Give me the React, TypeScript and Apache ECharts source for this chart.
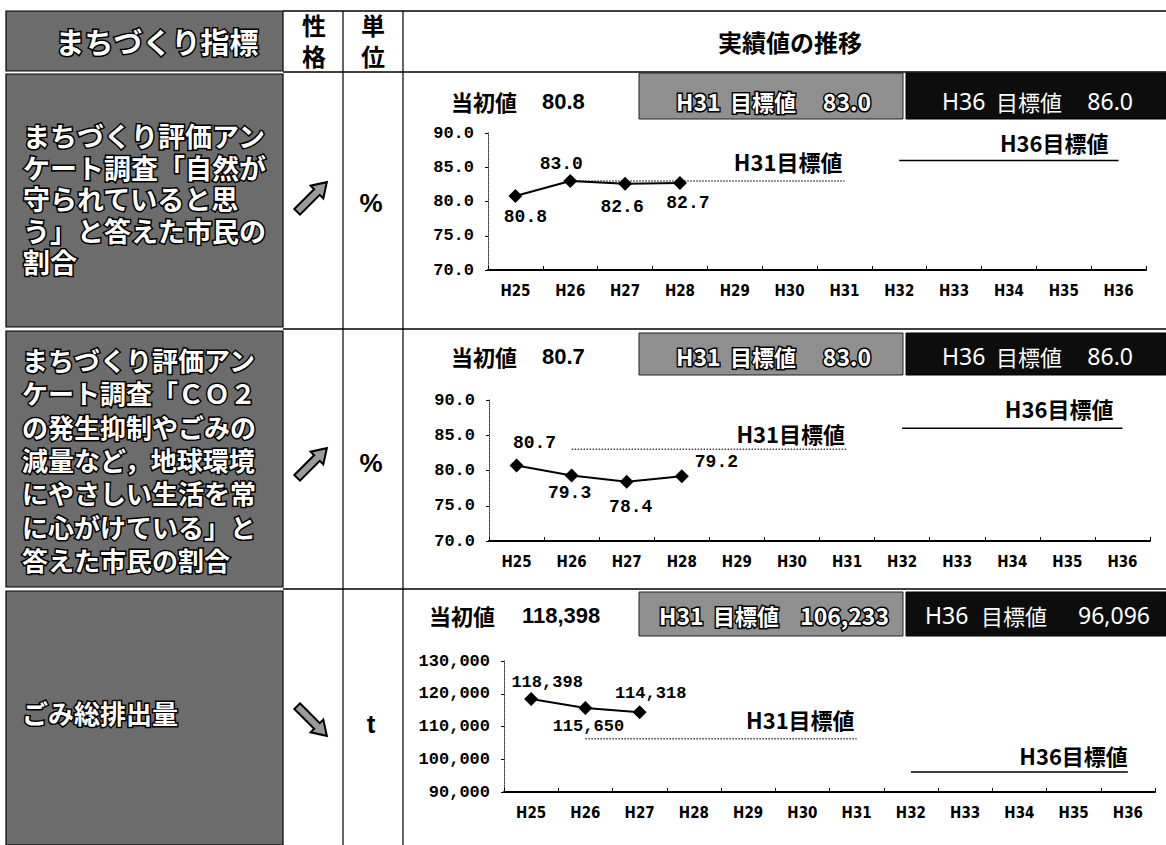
import React, { useEffect, useRef } from "react";
import * as echarts from "echarts";

// ---------- data ----------
const CATEGORIES = ["H25", "H26", "H27", "H28", "H29", "H30", "H31", "H32", "H33", "H34", "H35", "H36"];
const ROW1_ACTUAL = [80.8, 83.0, 82.6, 82.7];
const ROW2_ACTUAL = [80.7, 79.3, 78.4, 79.2];
const ROW3_ACTUAL = [118398, 115650, 114318];
const INITIAL_VALUES = [80.8, 80.7, 118398];
const TARGET_H31 = [83.0, 83.0, 106233];
const TARGET_H36 = [86.0, 86.0, 96096];
const Y_MIN = [70, 70, 90000];
const Y_MAX = [90, 90, 130000];
const Y_STEP = [5, 5, 10000];
const UNITS = ["%", "%", "t"];
const DIRECTIONS = ["up", "up", "down"];
const INDICATOR_LINES = [
  ["まちづくり評価アン", "ケート調査「自然が", "守られていると思", "う」と答えた市民の", "割合"],
  ["まちづくり評価アン", "ケート調査「ＣＯ２", "の発生抑制やごみの", "減量など，地球環境", "にやさしい生活を常", "に心がけている」と", "答えた市民の割合"],
  ["ごみ総排出量"],
];
const H31_RANGE = [1, 6]; // H26..H31
const H36_RANGE = [7, 11]; // H32..H36

const JP = '"Noto Sans CJK JP", "Noto Sans CJK SC", sans-serif';
const JP_TIGHT = '"Liberation Sans", "Noto Sans CJK JP", "Noto Sans CJK SC", sans-serif';

function withCommas(v: number) {
  return Math.round(v).toString().replace(/\B(?=(\d{3})+(?!\d))/g, ",");
}
function fmt(v: number, row: number) {
  return row < 2 ? v.toFixed(1) : withCommas(v);
}

// ---------- layout (style only) ----------
const GRIDS = [
  { left: 488, top: 133, width: 658, height: 137 },
  { left: 489, top: 400, width: 661, height: 141 },
  { left: 504, top: 661, width: 651, height: 131 },
];
const ROW_LAYOUT = [
  { boxTop: 73, boxH: 46, textY: 101, initX: 451, valX: 542, gray: [676, 730, 871], black: [942, 996, 1133], arrowY: 197, unitY: 203, textX: 23, lineY0: 138, lineH: 31.5, fs: 27 },
  { boxTop: 333, boxH: 42, textY: 356, initX: 451, valX: 542, gray: [676, 730, 871], black: [942, 996, 1133], arrowY: 463, unitY: 463, textX: 22, lineY0: 362, lineH: 33.3, fs: 26 },
  { boxTop: 592, boxH: 44, textY: 615, initX: 429, valX: 522, gray: [659, 713, 889], black: [925, 981, 1150], arrowY: 721, unitY: 724, textX: 22, lineY0: 715, lineH: 33, fs: 26 },
];
// per-point label placement for actual series
const ACTUAL_LABELS = [
  [
    { position: "bottom", distance: 5, offset: [10, 0] },
    { position: "top", distance: 1, offset: [-9, 0] },
    { position: "bottom", distance: 7, offset: [-3, 0] },
    { position: "bottom", distance: 4, offset: [8, 0] },
  ],
  [
    { position: "top", distance: 7, offset: [18, 0] },
    { position: "bottom", distance: 2, offset: [-2, 0] },
    { position: "bottom", distance: 9, offset: [4, 0] },
    { position: "right", distance: 6, offset: [0, -14] },
  ],
  [
    { position: "top", distance: 1, offset: [16, 0] },
    { position: "bottom", distance: 3, offset: [3, 0] },
    { position: "top", distance: 3, offset: [11, 0] },
  ],
];
const H31_LABEL = [
  { distance: 8, offset: [-2, 0] },
  { distance: 5, offset: [-2, 0] },
  { distance: 8, offset: [-2, 0] },
];
const H36_LABEL = [
  { distance: 7, offset: [-10, 0] },
  { distance: 9, offset: [-9, 0] },
  { distance: 6, offset: [0, 0] },
];

function buildOption() {
  const actuals = [ROW1_ACTUAL, ROW2_ACTUAL, ROW3_ACTUAL];
  const grid = GRIDS.map((g) => ({ ...g, containLabel: false }));
  const xAxis = GRIDS.map((_, i) => ({
    gridIndex: i,
    type: "category",
    data: CATEGORIES,
    boundaryGap: true,
    axisLine: { lineStyle: { color: "#000", width: 2 } },
    axisTick: { show: true, inside: true, length: 4, lineStyle: { color: "#000" } },
    axisLabel: {
      interval: 0,
      color: "#000",
      fontFamily: '"DejaVu Sans Condensed", sans-serif',
      fontWeight: "bold",
      fontSize: 15,
      margin: 13,
    },
    splitLine: { show: false },
  }));
  const yAxis = GRIDS.map((_, i) => ({
    gridIndex: i,
    type: "value",
    min: Y_MIN[i],
    max: Y_MAX[i],
    interval: Y_STEP[i],
    axisLine: { show: true, lineStyle: { color: "#333", width: 1, type: "dotted" } },
    axisTick: { show: true, length: 3, lineStyle: { color: "#000" } },
    axisLabel: {
      color: "#000",
      fontFamily: '"Liberation Mono", monospace',
      fontWeight: "bold",
      fontSize: 17,
      margin: 14,
      formatter: (v: number) => fmt(v, i),
    },
    splitLine: { show: false },
  }));

  const series: any[] = [];
  GRIDS.forEach((_, i) => {
    const act = actuals[i];
    series.push({
      type: "line",
      xAxisIndex: i,
      yAxisIndex: i,
      silent: true,
      z: 5,
      symbol: "diamond",
      symbolSize: 14,
      itemStyle: { color: "#000" },
      lineStyle: { color: "#000", width: 2 },
      label: {
        show: true,
        color: "#000",
        fontFamily: '"Liberation Mono", monospace',
        fontWeight: "bold",
        fontSize: i < 2 ? 18 : 17,
        formatter: (p: any) => fmt(p.value, i),
      },
      data: CATEGORIES.map((_, k) =>
        k < act.length ? { value: act[k], label: ACTUAL_LABELS[i][k] } : null
      ),
    });
    series.push({
      type: "line",
      xAxisIndex: i,
      yAxisIndex: i,
      silent: true,
      z: 3,
      symbol: "circle",
      symbolSize: 1,
      showSymbol: true,
      itemStyle: { color: "rgba(0,0,0,0)" },
      lineStyle: { color: "#444", width: 1.5, type: "dotted" },
      label: { show: false },
      data: CATEGORIES.map((_, k) => {
        if (k < H31_RANGE[0] || k > H31_RANGE[1]) return null;
        if (k === H31_RANGE[1])
          return {
            value: TARGET_H31[i],
            label: {
              show: true,
              formatter: "H31目標値",
              position: "top",
              align: "right",
              distance: H31_LABEL[i].distance,
              offset: H31_LABEL[i].offset,
              color: "#000",
              fontFamily: JP,
              fontWeight: "bold",
              fontSize: 22,
            },
          };
        return TARGET_H31[i];
      }),
    });
    series.push({
      type: "line",
      xAxisIndex: i,
      yAxisIndex: i,
      silent: true,
      z: 3,
      symbol: "circle",
      symbolSize: 1,
      showSymbol: true,
      itemStyle: { color: "rgba(0,0,0,0)" },
      lineStyle: { color: "#000", width: 1.5, type: "solid" },
      label: { show: false },
      data: CATEGORIES.map((_, k) => {
        if (k < H36_RANGE[0] || k > H36_RANGE[1]) return null;
        if (k === H36_RANGE[1])
          return {
            value: TARGET_H36[i],
            label: {
              show: true,
              formatter: "H36目標値",
              position: "top",
              align: "right",
              distance: H36_LABEL[i].distance,
              offset: H36_LABEL[i].offset,
              color: "#000",
              fontFamily: JP,
              fontWeight: "bold",
              fontSize: 22,
            },
          };
        return TARGET_H36[i];
      }),
    });
  });

  // ---------- table graphics ----------
  const g: any[] = [];
  const line = (x1: number, y1: number, x2: number, y2: number, w = 1.2) =>
    g.push({ type: "line", silent: true, shape: { x1, y1, x2, y2 }, style: { stroke: "#000", lineWidth: w } });
  const outlined = (text: string, x: number, y: number, size: number, align = "left", lineHeight?: number, family = JP) =>
    g.push({
      type: "text",
      silent: true,
      z: 10,
      style: {
        text,
        x,
        y,
        align,
        verticalAlign: lineHeight ? "top" : "middle",
        lineHeight: lineHeight || undefined,
        font: `bold ${size}px ${family}`,
        fill: "#fff",
        stroke: "#000",
        lineWidth: 3,
      },
    });
  const plain = (text: string, x: number, y: number, font: string, align = "center", fill = "#000", lineHeight?: number) =>
    g.push({
      type: "text",
      silent: true,
      z: 10,
      style: { text, x, y, align, verticalAlign: lineHeight ? "top" : "middle", lineHeight: lineHeight || undefined, font, fill },
    });

  // dark indicator cells
  const cells = [
    [11, 71],
    [74, 327],
    [331, 587],
    [591, 845],
  ];
  cells.forEach(([y1, y2]) =>
    g.push({
      type: "rect",
      silent: true,
      shape: { x: 6, y: y1, width: 277, height: y2 - y1 },
      style: { fill: "#6c6c6c", stroke: "#000", lineWidth: 1.2 },
    })
  );
  // grid lines
  line(283, 11, 1166, 11, 1.5);
  line(283, 72, 1166, 72, 1.5);
  line(283, 329, 1166, 329, 1.5);
  line(283, 589, 1166, 589, 1.5);
  line(343, 11, 343, 845, 1.2);
  line(403, 11, 403, 845, 1.2);

  // header
  outlined("まちづくり指標", 157, 41, 29, "center");
  const hf = `bold 24px ${JP_TIGHT}`;
  plain("性\n格", 314, 26 - 15.5, hf, "center", "#000", 31);
  plain("単\n位", 373, 26 - 15.5, hf, "center", "#000", 31);
  plain("実績値の推移", 790, 41, `bold 24px ${JP}`);

  ROW_LAYOUT.forEach((r, i) => {
    // indicator text (one multi-line block)
    outlined(INDICATOR_LINES[i].join("\n"), r.textX, r.lineY0 - r.lineH / 2, r.fs, "left", r.lineH, JP_TIGHT);
    // arrow
    const rot = DIRECTIONS[i] === "up" ? Math.PI / 4 : -Math.PI / 4;
    g.push({
      type: "polygon",
      silent: true,
      x: 312,
      y: r.arrowY,
      rotation: rot,
      shape: { points: [[-21, -4], [7, -4], [7, -9], [21, 0], [7, 9], [7, 4], [-21, 4]] },
      style: { fill: "#9a9a9a", stroke: "#000", lineWidth: 2 },
    });
    // unit
    plain(UNITS[i], 371, r.unitY, `bold 26px "Liberation Sans", sans-serif`);
    // initial value
    plain("当初値", r.initX, r.textY, `bold 22px ${JP}`, "left");
    plain(fmt(INITIAL_VALUES[i], i), r.valX, r.textY, `bold 22px "Liberation Sans", sans-serif`, "left");
    // H31 target box
    g.push({
      type: "rect",
      silent: true,
      shape: { x: 639, y: r.boxTop, width: 264, height: r.boxH },
      style: { fill: "#8f8f8f", stroke: "#222", lineWidth: 1 },
    });
    outlined("H31", r.gray[0], r.textY, 23);
    outlined("目標値", r.gray[1], r.textY, 22);
    outlined(fmt(TARGET_H31[i], i), r.gray[2], r.textY, 23, "right");
    // H36 target box
    g.push({
      type: "rect",
      silent: true,
      shape: { x: 906, y: r.boxTop, width: 260, height: r.boxH },
      style: { fill: "#0d0d0d", stroke: "#000", lineWidth: 1 },
    });
    plain("H36", r.black[0], r.textY, `23px "Noto Sans", sans-serif`, "left", "#fff");
    plain("目標値", r.black[1], r.textY, `22px ${JP}`, "left", "#fff");
    plain(fmt(TARGET_H36[i], i), r.black[2], r.textY, `23px "Noto Sans", sans-serif`, "right", "#fff");
  });

  return {
    animation: false,
    backgroundColor: "#fff",
    grid,
    xAxis,
    yAxis,
    series,
    graphic: g,
  };
}

export default function App() {
  const ref = useRef<HTMLDivElement>(null);
  useEffect(() => {
    if (!ref.current) return;
    const chart = echarts.init(ref.current, undefined, { renderer: "svg" });
    chart.setOption(buildOption() as any);
    return () => chart.dispose();
  }, []);
  return (
    <div
      ref={ref}
      style={{ position: "absolute", left: 0, top: 0, width: 1166, height: 845, background: "#fff" }}
    />
  );
}
